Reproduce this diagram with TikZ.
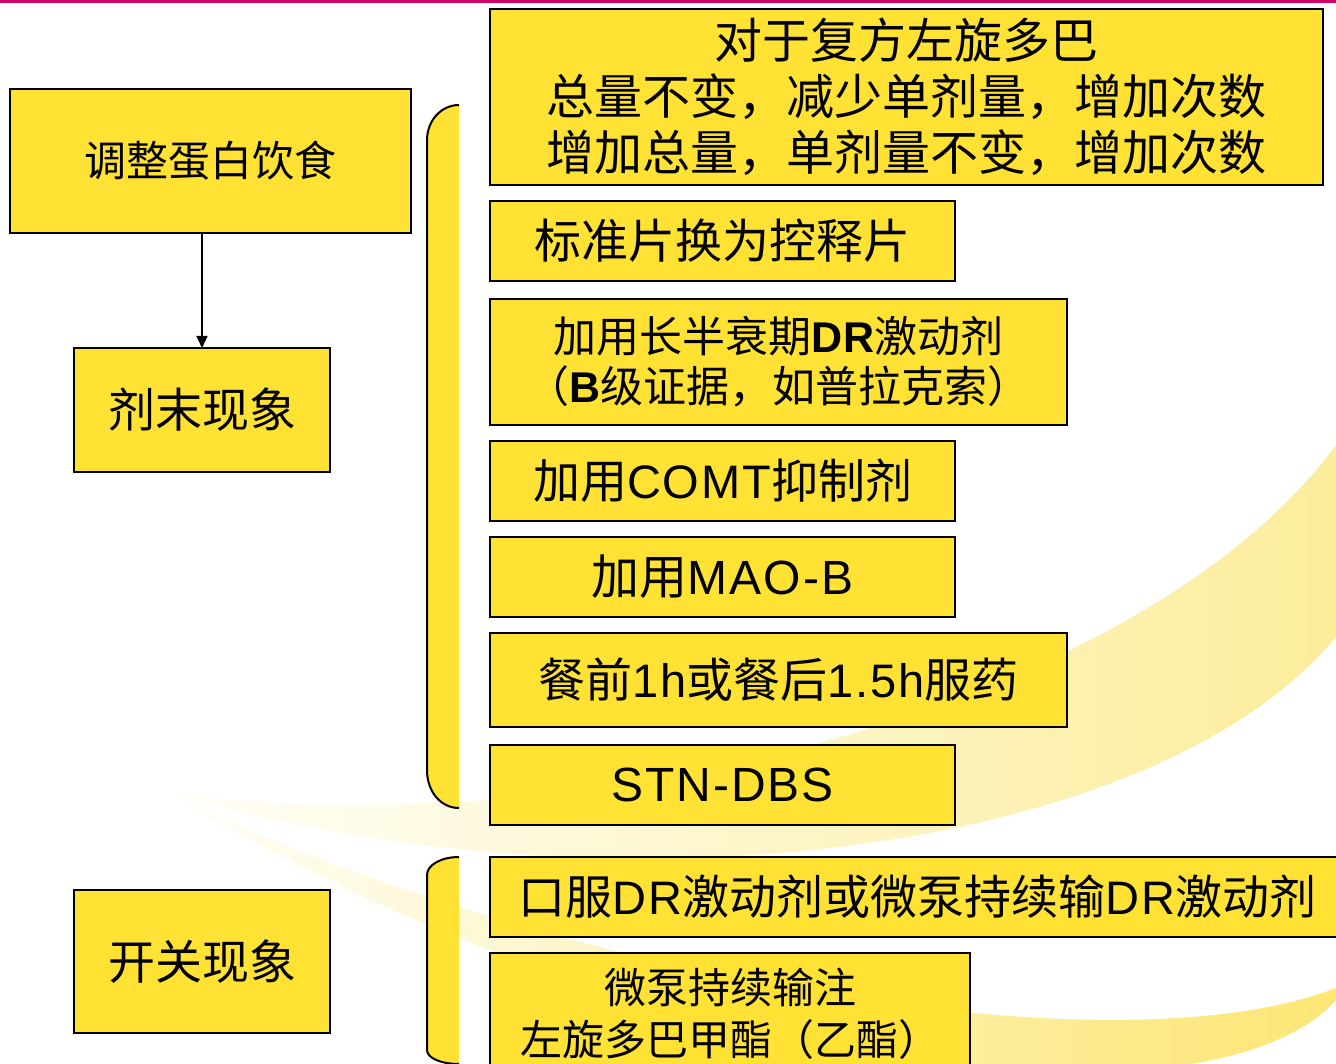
\documentclass[tikz,border=0pt]{standalone}
\usepackage{fontspec}
\setmainfont{Liberation Sans}
\newfontfamily\cjk{Noto Sans CJK SC}
\newfontfamily\latf{Liberation Sans}[LetterSpace=4]
\newcommand\LT[1]{{\latf #1}}
\newcommand\LB[1]{{\latf\bfseries #1}}
\usetikzlibrary{arrows.meta}
\definecolor{boxy}{RGB}{255,226,51}
\definecolor{topbar}{RGB}{204,0,102}
\definecolor{swA}{RGB}{255,254,248}
\definecolor{swB}{RGB}{254,248,218}
\definecolor{swC}{RGB}{252,237,155}
\definecolor{swD}{RGB}{252,230,115}
\begin{document}
\begin{tikzpicture}[x=1pt,y=-1pt,
  box/.style={draw=black, line width=2pt, fill=boxy, inner sep=0pt, outer sep=0pt,
    anchor=north west, align=center},
  brace/.style={line width=2pt, draw=black},
  arr/.style={line width=1.5pt, -{Triangle[length=12pt,width=11pt]}}]
\useasboundingbox (0,0) rectangle (1336,1064);
\clip (0,0) rectangle (1336,1064);
\fill[white] (0,0) rectangle (1336,1064);
% background swooshes
\shade[left color=swA, middle color=swB, right color=swC]
  (170,793) .. controls (600,850) and (1150,700) .. (1336,445)
  -- (1340,445) -- (1340,637) -- (1336,637)
  .. controls (1150,860) and (600,920) .. (170,793) -- cycle;
\shade[left color=swA, middle color=swB, right color=swD]
  (170,793) .. controls (500,960) and (1100,1080) .. (1336,988)
  -- (1340,988) -- (1340,1000) -- (1336,1000)
  .. controls (1200,1150) and (600,1060) .. (170,793) -- cycle;
% top bar
\fill[topbar] (0,0) rectangle (1336,3.5);
% braces
\fill[boxy] (459,105) .. controls (441,105) and (427,121) .. (427,140) -- (427,770)
  .. controls (427,792) and (441,808) .. (459,808) -- cycle;
\draw[brace] (459,105) .. controls (441,105) and (427,121) .. (427,140) -- (427,770)
  .. controls (427,792) and (441,808) .. (459,808);
\fill[boxy] (459,857) .. controls (441,857) and (427,865) .. (427,875) -- (427,1050)
  .. controls (427,1058) and (441,1064) .. (459,1064) -- cycle;
\draw[brace] (459,857) .. controls (441,857) and (427,865) .. (427,875) -- (427,1050)
  .. controls (427,1058) and (441,1064) .. (459,1064);
% left boxes
\node[box, minimum width=401, minimum height=144, font={\cjk\fontsize{42}{50}\selectfont}]
  (diet) at (10,89) {调整蛋白饮食};
\node[box, minimum width=256, minimum height=124, font={\cjk\fontsize{47}{55}\selectfont}]
  (wearing) at (74,348) {剂末现象};
\node[box, minimum width=256, minimum height=143, font={\cjk\fontsize{47}{55}\selectfont}]
  (onoff) at (74,890) {开关现象};
\draw[arr] (wearing.north |- diet.south) -- (wearing.north);
% right boxes
\node[box, minimum width=833, minimum height=176, font={\cjk\fontsize{48}{56}\selectfont}]
  (r1) at (490,9) {对于复方左旋多巴\\总量不变，减少单剂量，增加次数\\增加总量，单剂量不变，增加次数};
\node[box, minimum width=465, minimum height=80, font={\cjk\fontsize{47}{55}\selectfont}]
  (r2) at (490,201) {标准片换为控释片};
\node[box, minimum width=577, minimum height=126, font={\cjk\fontsize{43}{50}\selectfont}]
  (r3) at (490,299) {加用长半衰期\LB{DR}激动剂\\（\LB{B}级证据，如普拉克索）};
\node[box, minimum width=465, minimum height=80, font={\cjk\fontsize{47}{55}\selectfont}]
  (r4) at (490,441) {加用\LT{COMT}抑制剂};
\node[box, minimum width=465, minimum height=80, font={\cjk\fontsize{48}{56}\selectfont}]
  (r5) at (490,537) {加用\LT{MAO-B}};
\node[box, minimum width=577, minimum height=94, font={\cjk\fontsize{47}{55}\selectfont}]
  (r6) at (490,633) {餐前\LT{1h}或餐后\LT{1.5h}服药};
\node[box, minimum width=465, minimum height=80, font={\cjk\fontsize{48}{56}\selectfont}]
  (r7) at (490,745) {\LT{STN-DBS}};
\node[box, minimum width=855, minimum height=80, font={\cjk\fontsize{47}{55}\selectfont}]
  (r8) at (490,857) {口服\LT{DR}激动剂或微泵持续输\LT{DR}激动剂};
\node[box, minimum width=480, minimum height=122, font={\cjk\fontsize{42}{52}\selectfont}]
  (r9) at (490,953) {微泵持续输注\\左旋多巴甲酯（乙酯）};
\end{tikzpicture}
\end{document}
